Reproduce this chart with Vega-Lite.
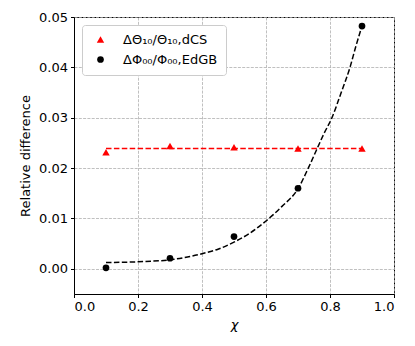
{
  "$schema": "https://vega.github.io/schema/vega-lite/v6.json",
  "width": 320,
  "height": 277,
  "autosize": {"type": "none"},
  "padding": {"left": 74, "top": 17, "right": 21, "bottom": 52},
  "background": "white",
  "config": {
    "font": "DejaVu Sans",
    "view": {"stroke": "black", "strokeWidth": 1},
    "axis": {
      "domainColor": "black",
      "tickColor": "black",
      "tickSize": 3.5,
      "labelFontSize": 13,
      "labelColor": "black",
      "titleFontSize": 13,
      "titleFontWeight": "normal",
      "titleColor": "black",
      "gridColor": "#b0b0b0",
      "gridDash": [3, 1.3],
      "gridWidth": 0.8,
      "labelPadding": 3
    }
  },
  "datasets": {
    "pts": [
      {"chi": 0.1, "val": 0.02315, "series": "theta"},
      {"chi": 0.3, "val": 0.0244, "series": "theta"},
      {"chi": 0.5, "val": 0.02415, "series": "theta"},
      {"chi": 0.7, "val": 0.0239, "series": "theta"},
      {"chi": 0.9, "val": 0.0239, "series": "theta"},
      {"chi": 0.1, "val": 0.0002, "series": "phi"},
      {"chi": 0.3, "val": 0.0021, "series": "phi"},
      {"chi": 0.5, "val": 0.0064, "series": "phi"},
      {"chi": 0.7, "val": 0.0160, "series": "phi"},
      {"chi": 0.9, "val": 0.0482, "series": "phi"}
    ],
    "flat": [
      {"chi": 0.1, "val": 0.0239},
      {"chi": 0.9, "val": 0.0239}
    ],
    "curve": [
      {"chi": 0.1, "val": 0.00125},
      {"chi": 0.2, "val": 0.0014},
      {"chi": 0.3, "val": 0.0018},
      {"chi": 0.4, "val": 0.0030},
      {"chi": 0.45, "val": 0.0039},
      {"chi": 0.5, "val": 0.0053},
      {"chi": 0.55, "val": 0.0071},
      {"chi": 0.6, "val": 0.0095},
      {"chi": 0.65, "val": 0.0124},
      {"chi": 0.7, "val": 0.0159},
      {"chi": 0.73, "val": 0.0197},
      {"chi": 0.76, "val": 0.0239},
      {"chi": 0.78, "val": 0.0267},
      {"chi": 0.806, "val": 0.0300},
      {"chi": 0.835, "val": 0.0350},
      {"chi": 0.8625, "val": 0.0400},
      {"chi": 0.88, "val": 0.0440},
      {"chi": 0.9, "val": 0.0482}
    ]
  },
  "encoding": {
    "x": {
      "field": "chi", "type": "quantitative",
      "scale": {"domain": [0, 1], "nice": false, "zero": false},
      "axis": {"values": [0, 0.2, 0.4, 0.6, 0.8, 1.0], "format": ".1f", "title": "χ", "titleFontStyle": "italic", "titlePadding": 5}
    },
    "y": {
      "field": "val", "type": "quantitative",
      "scale": {"domain": [-0.005, 0.05], "nice": false, "zero": false},
      "axis": {"values": [0, 0.01, 0.02, 0.03, 0.04, 0.05], "format": ".2f", "title": "Relative difference", "titlePadding": 6}
    }
  },
  "layer": [
    {
      "data": {"name": "flat"},
      "mark": {"type": "line", "color": "#ff0000", "strokeDash": [5.5, 2.4], "strokeWidth": 1.5}
    },
    {
      "data": {"name": "curve"},
      "mark": {"type": "line", "color": "black", "strokeDash": [5.5, 2.4], "strokeWidth": 1.5, "interpolate": "monotone"}
    },
    {
      "data": {"name": "pts"},
      "mark": {"type": "point", "filled": true, "opacity": 1},
      "encoding": {
        "color": {
          "field": "series", "type": "nominal",
          "scale": {"domain": ["theta", "phi"], "range": ["#ff0000", "black"]},
          "legend": {
            "title": null,
            "orient": "top-left",
            "offset": 8,
            "padding": 8,
            "strokeColor": "#cccccc",
            "fillColor": "white",
            "cornerRadius": 3,
            "labelFontSize": 13,
            "labelColor": "black",
            "rowPadding": 6,
            "symbolOpacity": 1,
            "symbolOffset": 4,
            "labelOffset": 16,
            "labelExpr": "datum.value == 'theta' ? 'ΔΘ₁₀/Θ₁₀,dCS' : 'ΔΦ₀₀/Φ₀₀,EdGB'"
          }
        },
        "shape": {
          "field": "series", "type": "nominal",
          "scale": {"domain": ["theta", "phi"], "range": ["triangle-up", "circle"]},
          "legend": null
        },
        "size": {
          "field": "series", "type": "nominal",
          "scale": {"domain": ["theta", "phi"], "range": [55, 45]},
          "legend": null
        }
      }
    }
  ]
}
